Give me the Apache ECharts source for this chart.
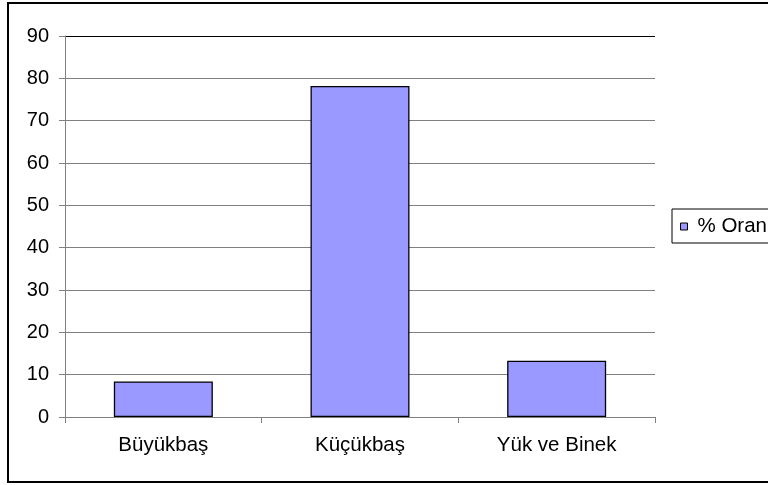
<!DOCTYPE html>
<html>
<head>
<meta charset="utf-8">
<script src="https://cdn.jsdelivr.net/npm/echarts@6/dist/echarts.min.js"></script>
<style>
html,body{margin:0;padding:0;background:#fff;}
#chart{width:768px;height:485px;}
</style>
</head>
<body>
<div id="chart"></div>
<script>
var categories = ['Büyükbaş', 'Küçükbaş', 'Yük ve Binek'];
var seriesName = '% Oran';
var values = [8.4, 78.2, 13.3];
var yTicks = [0, 10, 20, 30, 40, 50, 60, 70, 80, 90];

var chart = echarts.init(document.getElementById('chart'));
var font = 'Liberation Sans, Arial, sans-serif';
var gridColors = yTicks.map(function (v, i) { return i === yTicks.length - 1 ? '#000000' : '#808080'; });

chart.setOption({
  animation: false,
  backgroundColor: '#ffffff',
  textStyle: { fontFamily: font, color: '#000' },
  grid: { left: 65, right: 113, top: 36, bottom: 68 },
  legend: {
    data: [seriesName],
    left: 672, top: 209,
    padding: [7, 10, 6, 8],
    borderColor: '#000', borderWidth: 1,
    itemWidth: 7, itemHeight: 7,
    icon: 'rect',
    itemStyle: { borderColor: '#000', borderWidth: 1 },
    textStyle: { fontFamily: font, fontSize: 20.5, color: '#000', padding: [0, 0, 0, 5] }
  },
  xAxis: {
    type: 'category',
    data: categories,
    axisLine: { lineStyle: { color: '#808080', width: 1 } },
    axisTick: { show: true, length: 6, lineStyle: { color: '#808080' } },
    axisLabel: { fontFamily: font, fontSize: 20.5, color: '#000', margin: 18 },
    splitLine: { show: false }
  },
  yAxis: {
    type: 'value',
    min: 0, max: 90, interval: 10,
    axisLine: { show: true, lineStyle: { color: '#808080', width: 1 } },
    axisTick: { show: true, length: 6, lineStyle: { color: '#808080' } },
    axisLabel: { fontFamily: font, fontSize: 20, color: '#000', margin: 16 },
    splitLine: { show: true, lineStyle: { color: gridColors, width: 1 } }
  },
  series: [{
    name: seriesName,
    type: 'bar',
    data: values,
    barWidth: 99,
    itemStyle: { color: '#9999FF', borderColor: '#000', borderWidth: 1.3 }
  }],
  graphic: [{
    type: 'rect',
    shape: { x: 8, y: 3, width: 800, height: 479 },
    style: { fill: 'none', stroke: '#000', lineWidth: 2 },
    silent: true, z: 100
  }]
});
</script>
</body>
</html>
